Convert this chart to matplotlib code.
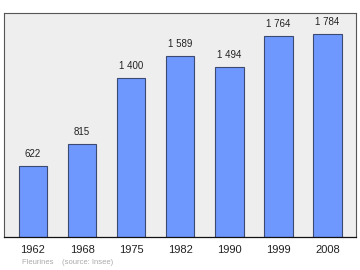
import matplotlib
matplotlib.use("Agg")
import matplotlib.pyplot as plt

plt.rcParams["font.family"] = ["Liberation Sans", "DejaVu Sans"]

years = ["1962", "1968", "1975", "1982", "1990", "1999", "2008"]
population = [622, 815, 1400, 1589, 1494, 1764, 1784]
labels = ["622", "815", "1 400", "1 589", "1 494", "1 764", "1 784"]

fig = plt.figure(figsize=(3.6, 2.7), dpi=100)
ax = fig.add_axes([4 / 360, 33 / 270, 352 / 360, 224 / 270])
ax.set_facecolor("#eeeeee")

x = list(range(len(years)))
ax.bar(x, population, width=0.58, color="#6f98ff", edgecolor="#3a4a70", linewidth=0.8, zorder=2)

for xi, v, lab in zip(x, population, labels):
    ax.annotate(lab, (xi, v), xytext=(0, 5), textcoords="offset points",
                ha="center", va="bottom", fontsize=7, color="#222222")

ax.set_xlim(-0.59, 6.58)
ax.set_ylim(0, 1970)
ax.set_yticks([])
ax.set_xticks(x)
ax.set_xticklabels(years, fontsize=8, color="#222222")
ax.tick_params(axis="x", length=0, pad=6)

for side in ["left", "top", "right"]:
    ax.spines[side].set_color("#555555")
    ax.spines[side].set_linewidth(0.8)
ax.spines["bottom"].set_color("#111111")
ax.spines["bottom"].set_linewidth(0.9)

fig.text(22 / 360, 1 - 263 / 270, "Fleurines    (source: Insee)", fontsize=5.5,
         color="#aaaaaa", va="center", ha="left")

fig.savefig("out.png", dpi=100)
